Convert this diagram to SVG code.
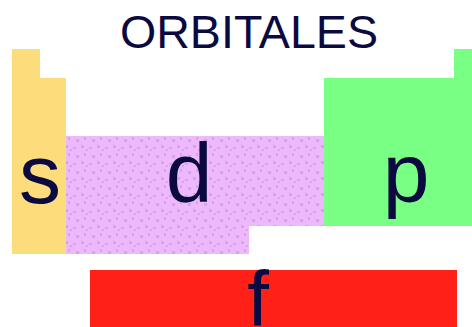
<svg xmlns="http://www.w3.org/2000/svg" width="472" height="327" viewBox="0 0 472 327">
<style>
.lbl{font-family:"Liberation Sans",Arial,sans-serif;fill:#0a0a40;text-anchor:middle}
.big{font-size:84px}
</style>
<defs>
<pattern id="dots" width="16" height="16" patternUnits="userSpaceOnUse">
<rect width="16" height="16" fill="#eeb8fc"/>
<rect x="1" y="1" width="3" height="3" fill="#d9a3ec"/>
<rect x="9" y="3" width="3" height="2" fill="#d9a3ec"/>
<rect x="4" y="9" width="2" height="3" fill="#d9a3ec"/>
<rect x="12" y="11" width="3" height="3" fill="#d9a3ec"/>
<rect x="6" y="5" width="2" height="2" fill="#d9a3ec"/>
</pattern>
</defs>
<rect width="472" height="327" fill="#ffffff"/>
<g id="title"><text class="lbl" x="249" y="48" font-size="47" textLength="258" lengthAdjust="spacingAndGlyphs">ORBITALES</text></g>
<g id="s-block">
<polygon points="12,49 40,49 40,78 66,78 66,254 12,254" fill="#fddc7c"/>
<text class="lbl big" x="40" y="203">s</text>
</g>
<g id="d-block">
<polygon points="66,136 324,136 324,226 249,226 249,254 66,254" fill="url(#dots)"/>
<text class="lbl big" x="189" y="202">d</text>
</g>
<g id="p-block">
<polygon points="324,78 454,78 454,49 472,49 472,226 324,226" fill="#78ff84"/>
<text class="lbl big" x="406" y="202">p</text>
</g>
<g id="f-block">
<rect x="90" y="270" width="367" height="57" fill="#ff2018"/>
<text class="lbl" x="258" y="326" font-size="78">f</text>
</g>
<g id="connectors"/>
</svg>
